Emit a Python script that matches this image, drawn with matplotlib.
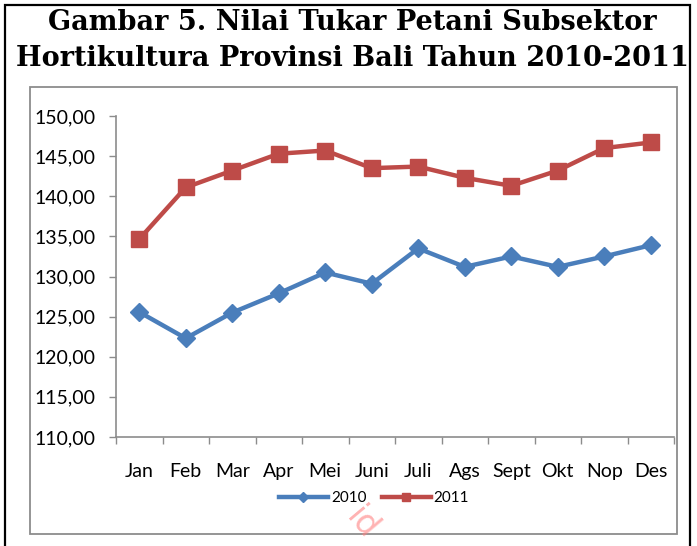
import matplotlib
matplotlib.use("Agg")
import matplotlib.pyplot as plt
from matplotlib.patches import Rectangle
from matplotlib.lines import Line2D

months = ["Jan", "Feb", "Mar", "Apr", "Mei", "Juni", "Juli", "Ags", "Sept", "Okt", "Nop", "Des"]
ntp_2010 = [125.57, 122.3, 125.5, 127.9, 130.5, 129.1, 133.5, 131.2, 132.5, 131.2, 132.5, 133.9]
ntp_2011 = [134.66, 141.1, 143.2, 145.3, 145.7, 143.5, 143.7, 142.3, 141.3, 143.2, 146.0, 146.7]
yticks = [110, 115, 120, 125, 130, 135, 140, 145, 150]
ytick_labels = ["110,00", "115,00", "120,00", "125,00", "130,00", "135,00", "140,00", "145,00", "150,00"]
title_lines = ["Gambar 5. Nilai Tukar Petani Subsektor", "Hortikultura Provinsi Bali Tahun 2010-2011"]

W, H = 697, 546
fig = plt.figure(figsize=(W / 100, H / 100), dpi=100)

def fx(px):
    return px / W

def fy(py):
    return 1 - py / H

# outer black frame
fig.patches.append(Rectangle((fx(5), fy(560)), fx(690) - fx(5), fy(5) - fy(560),
                             transform=fig.transFigure, fill=False, edgecolor="black", lw=1.6))
# inner gray chart frame
fig.patches.append(Rectangle((fx(30), fy(534)), fx(677) - fx(30), fy(87) - fy(534),
                             transform=fig.transFigure, fill=False, edgecolor="#8c8c8c", lw=1.3))

fig.text(fx(352), fy(23), title_lines[0], ha="center", va="center", fontsize=19.5,
         fontweight="bold", family="DejaVu Serif")
fig.text(fx(352), fy(58), title_lines[1], ha="center", va="center", fontsize=19.5,
         fontweight="bold", family="DejaVu Serif")

ax = fig.add_axes([fx(116), fy(437), fx(674) - fx(116), fy(116) - fy(437)])
x = list(range(len(months)))
ax.plot(x, ntp_2010, color="#4A7EBB", lw=3.2, marker="D", markersize=9.5, label="2010", zorder=3)
ax.plot(x, ntp_2011, color="#BE4B48", lw=3.2, marker="s", markersize=11.5, label="2011", zorder=3)

ax.set_ylim(110, 150)
ax.set_xlim(-0.5, 11.5)
ax.set_yticks(yticks)
ax.set_yticklabels(ytick_labels, family="Lato", fontsize=14)
ax.set_xticks([i - 0.5 for i in range(13)])
ax.set_xticklabels([])
ax.set_xticks(x, minor=True)
ax.set_xticklabels(months, minor=True, family="Lato", fontsize=14)
ax.tick_params(axis="x", which="major", direction="out", length=5, color="#8c8c8c", width=1)
ax.tick_params(axis="x", which="minor", length=0, pad=19)
ax.tick_params(axis="y", direction="out", length=5, color="#8c8c8c", width=1, pad=10)
for s in ["top", "right"]:
    ax.spines[s].set_visible(False)
for s in ["left", "bottom"]:
    ax.spines[s].set_color("#8c8c8c")
    ax.spines[s].set_linewidth(1.2)

handles = [Line2D([], [], color="#4A7EBB", lw=3.2, marker="D", markersize=5),
           Line2D([], [], color="#BE4B48", lw=3.2, marker="s", markersize=6)]
fig.legend(handles, ["2010", "2011"], loc="center", bbox_to_anchor=(fx(374), fy(498)), ncol=2,
           frameon=False, prop={"family": "Lato", "size": 11}, handlelength=3.2,
           handletextpad=0.2, columnspacing=1.0)

# watermark fragment
fig.text(fx(362), fy(524), "id", color="#ff8080", alpha=0.6, fontsize=24, rotation=-50,
         ha="center", va="center", family="DejaVu Sans")

fig.savefig("out.png", dpi=100)
